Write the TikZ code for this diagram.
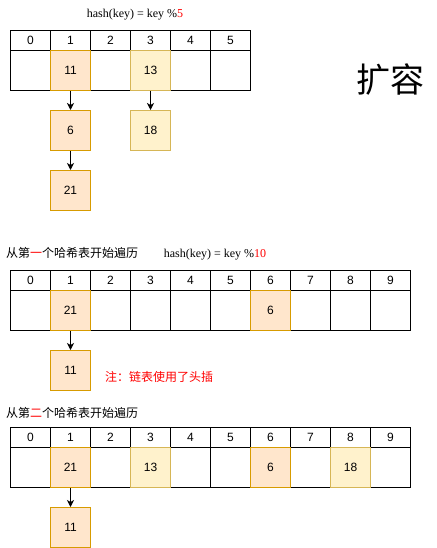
\documentclass[tikz,border=0pt]{standalone}
\usepackage{fontspec}
\setmainfont{Liberation Sans}
\newfontfamily\serif{Liberation Serif}
\newfontfamily\cjk{Noto Sans CJK SC}
\usepackage{xcolor}
\usepackage{tikz}
\usetikzlibrary{arrows.meta}
\definecolor{orfill}{HTML}{FFE6CC}
\definecolor{ordraw}{HTML}{D79B00}
\definecolor{yefill}{HTML}{FFF2CC}
\definecolor{yedraw}{HTML}{D6B656}
\definecolor{hint}{HTML}{FF0000}

\tikzset{
  idx/.style={draw=black, line width=1pt, minimum width=40pt, minimum height=20pt, inner sep=0pt, font=\fontsize{12}{14}\selectfont},
  slot/.style={draw=black, line width=1pt, minimum width=40pt, minimum height=40pt, inner sep=0pt, font=\fontsize{12}{14}\selectfont},
  oldkey/.style={slot, draw=ordraw, fill=orfill},
  newkey/.style={slot, draw=yedraw, fill=yefill},
  link/.style={line width=1pt, -{Stealth[length=7pt,width=7pt,inset=2pt]}},
  note/.style={inner sep=0pt, font=\cjk\fontsize{12}{14}\selectfont}
}

\begin{document}
\begin{tikzpicture}[x=1pt, y=-1pt]
    \useasboundingbox (0,0) rectangle (436,548);
    % old table, size 5
    \node[inner sep=0pt, font=\serif\fontsize{12}{14}\selectfont] (T1) at (135,15) {hash(key) = key \%{\color{hint}5}};
    \foreach \i in {0,...,5} {
      \node[idx] (A\i) at ({30.5+40*\i},40.5) {\i};
      \node[slot] (B\i) at ({30.5+40*\i},70.5) {};
    }
    \node[oldkey] (A11) at (70.5,70.5) {11};
    \node[newkey] (A13) at (150.5,70.5) {13};
    \node[oldkey] (A6) at (70.5,130.5) {6};
    \node[oldkey] (A21) at (70.5,190.5) {21};
    \node[newkey] (A18) at (150.5,130.5) {18};
    \path [link] (A11) edge (A6);
    \path [link] (A6) edge (A21);
    \path [link] (A13) edge (A18);
    \node[inner sep=0pt, font=\cjk\fontsize{34}{38}\selectfont] (K) at (390,80) {扩容};

    % new table after first pass
    \node[note, anchor=west] (T2) at (6,252.7) {从第{\color{hint}一}个哈希表开始遍历};
    \node[inner sep=0pt, font=\serif\fontsize{12}{14}\selectfont] (T3) at (215,255) {hash(key) = key \%{\color{hint}10}};
    \foreach \i in {0,...,9} {
      \node[idx] (C\i) at ({30.5+40*\i},280.5) {\i};
      \node[slot] (D\i) at ({30.5+40*\i},310.5) {};
    }
    \node[oldkey] (C21) at (70.5,310.5) {21};
    \node[oldkey] (C6) at (270.5,310.5) {6};
    \node[oldkey] (C11) at (70.5,370.5) {11};
    \path [link] (C21) edge (C11);
    \node[note, anchor=west, text=hint] (N) at (105,376.7) {注：链表使用了头插};

    % new table after second pass
    \node[note, anchor=west] (T4) at (6,412.7) {从第{\color{hint}二}个哈希表开始遍历};
    \foreach \i in {0,...,9} {
      \node[idx] (E\i) at ({30.5+40*\i},437.5) {\i};
      \node[slot] (F\i) at ({30.5+40*\i},467.5) {};
    }
    \node[oldkey] (E21) at (70.5,467.5) {21};
    \node[newkey] (E13) at (150.5,467.5) {13};
    \node[oldkey] (E6) at (270.5,467.5) {6};
    \node[newkey] (E18) at (350.5,467.5) {18};
    \node[oldkey] (E11) at (70.5,527.5) {11};
    \path [link] (E21) edge (E11);
  \end{tikzpicture}
\end{document}
